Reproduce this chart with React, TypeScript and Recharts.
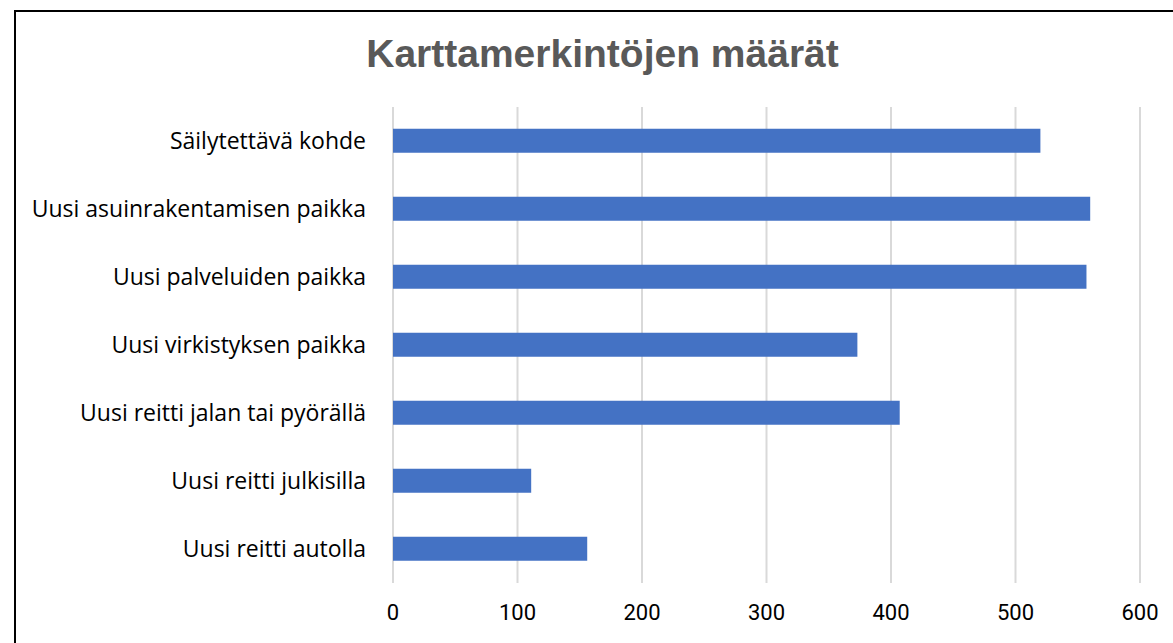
import React from 'react';
import { BarChart, Bar, XAxis, YAxis, CartesianGrid } from 'recharts';

const categories = [
  'Säilytettävä kohde',
  'Uusi asuinrakentamisen paikka',
  'Uusi palveluiden paikka',
  'Uusi virkistyksen paikka',
  'Uusi reitti jalan tai pyörällä',
  'Uusi reitti julkisilla',
  'Uusi reitti autolla',
];
const counts = [520, 560, 557, 373, 407, 111, 156];
const xTicks = [0, 100, 200, 300, 400, 500, 600];

const data = categories.map((name, i) => ({ name, value: counts[i] }));

export default function App() {
  return (
    <div
      style={{
        position: 'fixed',
        left: 14,
        top: 10,
        width: 1159,
        height: 633,
        borderLeft: '2px solid #000',
        borderTop: '2px solid #000',
        boxSizing: 'border-box',
        background: '#fff',
      }}
    >
      <div
        style={{
          position: 'absolute',
          left: 0,
          right: 0,
          top: 20,
          textAlign: 'center',
          paddingLeft: 16,
          fontFamily: '"Liberation Sans", Arial, sans-serif',
          fontWeight: 700,
          fontSize: 39,
          color: '#595959',
          lineHeight: '44px',
        }}
      >
        Karttamerkintöjen määrät
      </div>
      <BarChart
        width={1157}
        height={631}
        data={data}
        layout="vertical"
        margin={{ top: 95, right: 33, bottom: 0, left: 0 }}
        barCategoryGap="32%"
      >
        <CartesianGrid horizontal={false} stroke="#d9d9d9" strokeWidth={2} />
        <XAxis
          type="number"
          domain={[0, 600]}
          ticks={xTicks}
          axisLine={false}
          tickLine={false}
          tickSize={0}
          tickMargin={21}
          height={60}
          interval={0}
          tick={{ fill: '#000', fontSize: 22, fontFamily: '"Liberation Sans Narrow", "Roboto", sans-serif' }}
        />
        <YAxis
          type="category"
          dataKey="name"
          width={377}
          axisLine={false}
          tickLine={false}
          tickSize={0}
          tickMargin={27}
          interval={0}
          tick={{ fill: '#000', fontSize: 23, fontFamily: '"Open Sans", "Liberation Sans", sans-serif' }}
        />
        <Bar dataKey="value" fill="#4472c4" isAnimationActive={false} />
      </BarChart>
    </div>
  );
}
